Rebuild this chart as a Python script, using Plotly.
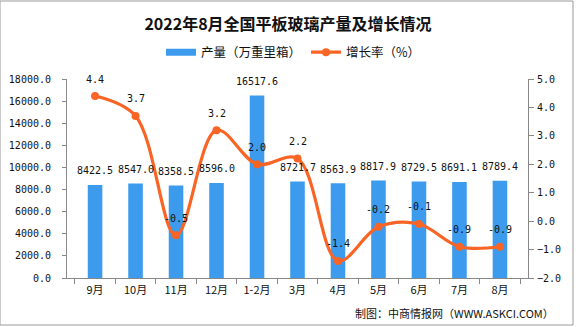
import plotly.graph_objects as go

categories = ["9月", "10月", "11月", "12月", "1-2月", "3月", "4月", "5月", "6月", "7月", "8月"]
output_vals = [8422.5, 8547.0, 8358.5, 8596.0, 16517.6, 8721.7, 8563.9, 8817.9, 8729.5, 8691.1, 8789.4]
growth_vals = [4.4, 3.7, -0.5, 3.2, 2.0, 2.2, -1.4, -0.2, -0.1, -0.9, -0.9]

BAR = "#3D9BEE"
LINE = "#FA6424"
NUM_FONT = "DejaVu Sans Mono"
CJK = "Noto Sans CJK SC"

fig = go.Figure()
fig.add_trace(go.Bar(
    x=categories, y=output_vals, name="产量（万重里箱）", showlegend=False,
    marker=dict(color=BAR, line=dict(width=0)), width=0.36, yaxis="y",
))
# legend-only entry to show the wide rectangle swatch of the bar series
fig.add_trace(go.Scatter(
    x=[None], y=[None], name="产量（万重里箱）", mode="lines",
    line=dict(color=BAR, width=7), yaxis="y",
))
fig.add_trace(go.Scatter(
    x=categories, y=growth_vals, name="增长率（%）", yaxis="y2",
    mode="lines+markers", line=dict(color=LINE, width=3.2, shape="spline", smoothing=1.0),
    marker=dict(color=LINE, size=8),
))

ann = []
for c, v in zip(categories, output_vals):
    ann.append(dict(x=c, y=v, xref="x", yref="y", text=f"{v:.1f}", showarrow=False,
                    yshift=14, font=dict(family=NUM_FONT, size=10, color="#111")))
for c, v in zip(categories, growth_vals):
    ann.append(dict(x=c, y=v, xref="x", yref="y2", text=f"{v:.1f}", showarrow=False,
                    yshift=17, font=dict(family=NUM_FONT, size=10, color="#111")))
ann.append(dict(x=(556-67)/461, y=-(313-278)/199, xref="paper", yref="paper", xanchor="right", yanchor="middle",
                text="制图：中商情报网（WWW.ASKCI.COM）", showarrow=False,
                font=dict(family=CJK, size=11, color="#111")))

fig.update_layout(
    width=576, height=327,
    margin=dict(l=67, r=48, t=79, b=49, autoexpand=False),
    paper_bgcolor="white", plot_bgcolor="white",
    title=dict(text="<b>2022年8月全国平板玻璃产量及增长情况</b>", x=0.5, xref="container", xanchor="center",
               y=1 - 24/327, yanchor="middle", font=dict(family=CJK, size=16, color="#111")),
    legend=dict(orientation="h", x=(161-67)/461, y=(278-52.5)/199, xanchor="left", yanchor="middle",
                font=dict(family=CJK, size=12.5, color="#111"), bgcolor="rgba(0,0,0,0)",
                itemwidth=30, tracegroupgap=0, entrywidth=100, entrywidthmode="pixels"),
    bargap=0.64,
    xaxis=dict(showline=True, linecolor="#888", ticks="outside", tickcolor="#888", ticklen=5,
               tickson="boundaries", tickfont=dict(family=CJK, size=11, color="#111"),
               ticklabelstandoff=2, showgrid=False, automargin=False),
    yaxis=dict(range=[0, 18000], dtick=2000, tickformat=".1f", showline=True, linecolor="#888",
               ticks="outside", tickcolor="#888", ticklen=4, showgrid=False, zeroline=False,
               ticklabelstandoff=9, automargin=False,
               tickfont=dict(family=NUM_FONT, size=10, color="#111")),
    yaxis2=dict(range=[-2, 5], dtick=1, tickformat=".1f", overlaying="y", side="right",
                showline=True, linecolor="#888", ticks="outside", tickcolor="#888", ticklen=5,
                showgrid=False, zeroline=False, ticklabelstandoff=1, automargin=False,
                tickfont=dict(family=NUM_FONT, size=10, color="#111")),
    annotations=ann,
    shapes=[dict(type="rect", xref="paper", yref="paper", x0=-67/461, x1=(573-67)/461,
                 y0=-(325-278)/199, y1=(278-1)/199, line=dict(color="#999", width=1))],
)

fig.write_html("out.html")
